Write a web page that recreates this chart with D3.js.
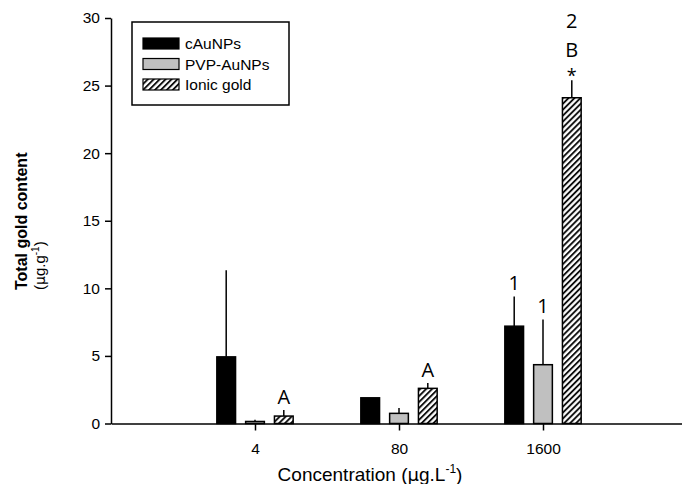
<!DOCTYPE html>
<html><head><meta charset="utf-8">
<script src="https://cdn.jsdelivr.net/npm/d3@7"></script>
<style>body{margin:0;background:#fff}svg{display:block}</style>
</head><body>
<svg id="c" width="682" height="484"></svg>
<script>
const categories = ["4", "80", "1600"];
const seriesNames = ["cAuNPs", "PVP-AuNPs", "Ionic gold"];
const cAuNPs     = [4.93, 1.9, 7.2];
const cAuNPsErr  = [6.4, 0.0, 2.2];
const pvpAuNPs   = [0.15, 0.75, 4.35];
const pvpErr     = [0.12, 0.4, 3.35];
const ionicGold  = [0.55, 2.6, 24.1];
const ionicErr   = [0.45, 0.4, 1.3];
const yTicks = [0, 5, 10, 15, 20, 25, 30];
// significance labels: [series index, category index, lines (top to bottom)]
const sigLabels = [
  [2, 0, ["A"]],
  [2, 1, ["A"]],
  [0, 2, ["1"]],
  [1, 2, ["1"]],
  [2, 2, ["2", "B", "*"]]
];

const values = [cAuNPs, pvpAuNPs, ionicGold];
const errs = [cAuNPsErr, pvpErr, ionicErr];

const svg = d3.select("#c");
const x = d3.scaleLinear().domain([0, 4]).range([111, 687]);
const y = d3.scaleLinear().domain([0, 30]).range([423.5, 18]);
const offset = [-0.2, 0, 0.2];
const bw = 0.13;
const FONT = "Liberation Sans, Arial, sans-serif";
const LFONT = "Open Sans, Liberation Sans, sans-serif";

const defs = svg.append("defs");
const pat = defs.append("pattern").attr("id", "hatch")
  .attr("patternUnits", "userSpaceOnUse").attr("width", 4.2).attr("height", 4.2)
  .attr("patternTransform", "rotate(45)");
pat.append("rect").attr("width", 4.2).attr("height", 4.2).attr("fill", "#fff");
pat.append("line").attr("x1", 1).attr("y1", 0).attr("x2", 1).attr("y2", 4.2)
  .attr("stroke", "#000").attr("stroke-width", 1.8);
const fills = ["#000", "#c0c0c0", "url(#hatch)"];

// bars
values.forEach((vals, s) => {
  const g = svg.append("g");
  vals.forEach((v, i) => {
    const cx = x(i + 1 + offset[s]);
    const w = x(bw) - x(0);
    if (errs[s][i] > 0) {
      g.append("line").attr("x1", cx).attr("x2", cx)
        .attr("y1", y(v)).attr("y2", y(v + errs[s][i]))
        .attr("stroke", "#000").attr("stroke-width", 1.5);
    }
    g.append("rect").attr("x", cx - w / 2).attr("y", y(v))
      .attr("width", w).attr("height", y(0) - y(v))
      .attr("fill", fills[s]).attr("stroke", "#000").attr("stroke-width", 1.5);
  });
});

// significance labels
sigLabels.forEach(([s, i, lines]) => {
  const cx = x(i + 1 + offset[s]);
  const top = y(values[s][i] + errs[s][i]);
  if (lines.length === 1) {
    svg.append("text").attr("x", cx).attr("y", top - 6)
      .attr("text-anchor", "middle").attr("font-family", LFONT)
      .attr("font-size", 20).attr("fill", "#000").text(lines[0]);
  } else {
    const dys = [-52, -23, 2];
    lines.forEach((t, k) => {
      svg.append("text").attr("x", cx).attr("y", top + dys[k])
        .attr("text-anchor", "middle").attr("font-family", LFONT)
        .attr("font-size", t === "*" ? 18 : 20).attr("fill", "#000").text(t);
    });
  }
});

// axes
const yAxis = d3.axisLeft(y).tickValues(yTicks).tickSize(6).tickSizeOuter(0).tickPadding(5);
const gy = svg.append("g").attr("transform", `translate(111,0)`).call(yAxis);
gy.select(".domain").attr("stroke-width", 1.5);
gy.selectAll(".tick line").attr("stroke-width", 1.5);
gy.selectAll("text").attr("font-family", FONT).attr("font-size", 15.5).attr("fill", "#000");

const xAxis = d3.axisBottom(x).tickValues([1, 2, 3]).tickFormat((d) => categories[d - 1])
  .tickSize(7).tickSizeOuter(0).tickPadding(12);
const gx = svg.append("g").attr("transform", `translate(0,${y(0)})`).call(xAxis);
gx.select(".domain").attr("stroke-width", 1.5);
gx.selectAll(".tick line").attr("stroke-width", 1.5);
gx.selectAll("text").attr("font-family", FONT).attr("font-size", 15.5).attr("fill", "#000");

// axis titles
const xt = svg.append("text").attr("x", 370).attr("y", 481).attr("text-anchor", "middle")
  .attr("font-family", FONT).attr("font-size", 19).attr("fill", "#000");
xt.append("tspan").text("Concentration (");
xt.append("tspan").text("\u03bc").attr("font-family", "DejaVu Sans, sans-serif").attr("font-size", 18);
xt.append("tspan").text("g.L");
xt.append("tspan").text("-1").attr("font-size", 12).attr("dy", -8);
xt.append("tspan").text(")").attr("dy", 8);

const yt = svg.append("g").attr("transform", "translate(27,290) rotate(-90)");
yt.append("text").attr("x", 0).attr("y", 0).attr("font-weight", "bold")
  .attr("font-family", FONT).attr("font-size", 16).attr("fill", "#000")
  .text("Total gold content");
const yt2 = yt.append("text").attr("x", 0).attr("y", 18)
  .attr("font-family", FONT).attr("font-size", 15).attr("fill", "#000");
yt2.append("tspan").text("(");
yt2.append("tspan").text("\u03bc").attr("font-family", "DejaVu Sans, sans-serif").attr("font-size", 14);
yt2.append("tspan").text("g.g");
yt2.append("tspan").text("-1").attr("font-size", 10).attr("dy", -6);
yt2.append("tspan").text(")").attr("dy", 6);

// legend
const lg = svg.append("g");
lg.append("rect").attr("x", 132).attr("y", 22).attr("width", 157).attr("height", 83)
  .attr("fill", "#fff").attr("stroke", "#000").attr("stroke-width", 1.5);
seriesNames.forEach((n, s) => {
  const yy = 38 + s * 20.5;
  lg.append("rect").attr("x", 143).attr("y", yy).attr("width", 36).attr("height", 11)
    .attr("fill", fills[s]).attr("stroke", "#000").attr("stroke-width", 1.2);
  lg.append("text").attr("x", 185).attr("y", yy + 11)
    .attr("font-family", FONT).attr("font-size", 15.5).attr("fill", "#000").text(n);
});
</script>
</body></html>
